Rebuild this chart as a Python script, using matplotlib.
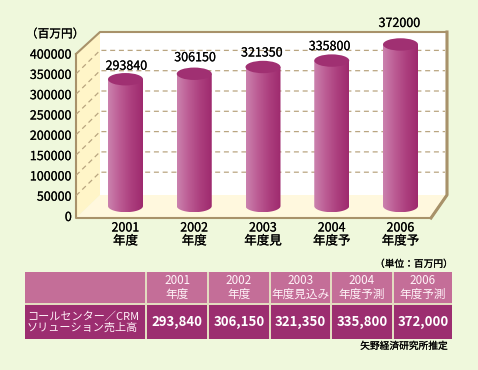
import numpy as np
import matplotlib
matplotlib.use("Agg")
import matplotlib.pyplot as plt
import matplotlib.patheffects as pe
from matplotlib.colors import LinearSegmentedColormap
from matplotlib.patches import Polygon, Rectangle, Ellipse, PathPatch
from matplotlib.path import Path

plt.rcParams['font.family'] = ['Noto Sans CJK JP', 'DejaVu Sans']

# ---- data ----
categories = ["2001\n年度", "2002\n年度", "2003\n年度見", "2004\n年度予", "2006\n年度予"]
values = [293840, 306150, 321350, 335800, 372000]
grid_values = [50000, 100000, 150000, 200000, 250000, 300000, 350000]
y_ticks = [0, 50000, 100000, 150000, 200000, 250000, 300000, 350000, 400000]
table_headers = ["2001\n年度", "2002\n年度", "2003\n年度見込み", "2004\n年度予測", "2006\n年度予測"]
row_label = "コールセンター／CRM\nソリューション売上高"
unit_label = "（百万円）"
table_unit = "（単位：百万円）"
source = "矢野経済研究所推定"

W, H = 478, 370
BG = "#EFF8DC"; TAN = "#A8926A"; GRID = "#B9A580"
bold = [pe.withStroke(linewidth=0.12, foreground="black")]
fig = plt.figure(figsize=(W / 100, H / 100), dpi=100, facecolor=BG)

def axes_px(x0, x1, ytop, ybot, **kw):
    return fig.add_axes([x0 / W, 1 - ybot / H, (x1 - x0) / W, (ybot - ytop) / H], **kw)

# background (frame and table) in pixel coordinates
bg = axes_px(0, W, 0, H)
bg.set_xlim(0, W); bg.set_ylim(H, 0); bg.axis("off")

bg.add_patch(Polygon([(100, 32), (447, 32), (447, 195), (100, 195)], fc="white", ec="none"))
bg.add_patch(Polygon([(76, 54), (100, 32), (100, 195), (76, 218)], fc="#FFF5C8", ec="none"))
bg.add_patch(Polygon([(76, 218), (100, 195), (447, 195), (431, 218)], fc="#FFF8DE", ec="none"))
bg.plot([76, 100, 447, 447, 431, 76, 76], [54, 32, 32, 195, 218, 218, 54],
        color=TAN, lw=1.5, solid_joinstyle="round", zorder=5)
bg.plot([447, 447, 431], [32, 195, 218], color=TAN, lw=2.2, solid_joinstyle="round", zorder=5)

# value axis: front-wall scale
ax_val = axes_px(76, 447, 53.6, 216)
ax_val.patch.set_alpha(0)
ax_val.set_xlim(76, 447); ax_val.set_ylim(0, 400000)
for s in ax_val.spines.values():
    s.set_visible(False)
ax_val.set_xticks([])
ax_val.set_yticks(y_ticks)
ax_val.set_yticklabels([str(v) for v in y_ticks], fontsize=9, color="black", path_effects=bold)
ax_val.tick_params(axis="y", length=0, pad=3)
shift = 23.5 / 162.4 * 400000
for v in grid_values:
    ax_val.plot([76, 100, 445], [v, v + shift, v + shift], color=GRID, lw=0.9,
                dashes=(4, 3), clip_on=False, zorder=1)

# bars: own value scale (0 at y=210 px, 22.25 px per 50000)
px_per_unit = 0.000445
centers_px0, step_px = 125.5, 68.75
half_w = 17.5 / step_px
ax = axes_px(76, 447, 32, 218)
ax.patch.set_alpha(0)
for s in ax.spines.values():
    s.set_visible(False)
ax.set_yticks([])
ax.set_xticks(range(len(categories)))
ax.set_xticklabels(categories, fontsize=9, color="black", linespacing=1.0, path_effects=bold)
ax.tick_params(axis="x", length=0, pad=2.5)

cmap = LinearSegmentedColormap.from_list("cyl", ["#CB82AE", "#BC5C94", "#AC3F7E", "#9E2A6E"])
grad = np.linspace(0, 1, 128).reshape(1, -1)
e_h = 6.2 / px_per_unit
base = 4 / px_per_unit
label_dy = [13, 16, 14, 14, 21]
label_dx = [1, 1, -1, -2, -1]
t = np.linspace(np.pi, 2 * np.pi, 40)
for i, (v, dy, dx) in enumerate(zip(values, label_dy, label_dx)):
    xs = np.r_[i - half_w, i + half_w * np.cos(t), i + half_w]
    ys = np.r_[v, base + e_h * np.sin(t), v]
    im = ax.imshow(grad, extent=(i - half_w, i + half_w, base - e_h, v), cmap=cmap,
                   aspect="auto", zorder=3, interpolation="bilinear")
    patch = PathPatch(Path(np.c_[xs, ys]), transform=ax.transData, fc="none", ec="none")
    ax.add_patch(patch)
    im.set_clip_path(patch)
    ax.add_patch(Ellipse((i, v), 2 * half_w, 2 * e_h, fc="#A03072", ec="none", zorder=4))
    ax.annotate(str(v), (i, v), xytext=(dx * 0.72, dy * 0.72), textcoords="offset points",
                ha="center", va="center", fontsize=9, color="black", zorder=6,
                annotation_clip=False, path_effects=bold)
ax.set_xlim((76 - centers_px0) / step_px, (447 - centers_px0) / step_px)
ax.set_ylim((210 - 218) / px_per_unit, (210 - 32) / px_per_unit)

bg.text(55, 34, unit_label, fontsize=8.4, ha="center", va="center", color="black", path_effects=bold)

# table
HEAD = "#C46E98"; BODY = "#9C2E70"
col_x = [(147, 207), (209, 269), (271, 330), (332, 392), (394, 452)]
bg.add_patch(Rectangle((25, 272), 427, 67, fc="#E3DCC0", ec="none"))
bg.add_patch(Rectangle((25, 272), 120, 31, fc=HEAD, ec="none"))
bg.add_patch(Rectangle((25, 305), 120, 34, fc=BODY, ec="none"))
bg.text(27, 322, row_label, fontsize=8, color="#FFF0F8", ha="left", va="center", linespacing=1.05)
for (x0, x1), h, v in zip(col_x, table_headers, values):
    bg.add_patch(Rectangle((x0, 272), x1 - x0, 31, fc=HEAD, ec="none"))
    bg.add_patch(Rectangle((x0, 305), x1 - x0, 34, fc=BODY, ec="none"))
    bg.text((x0 + x1) / 2, 287.5, h, fontsize=8.4, color="#FFF3F8", ha="center", va="center", linespacing=1.0)
    bg.text((x0 + x1) / 2, 322, f"{v:,}", fontsize=9.5, color="white", ha="center", va="center", fontweight="bold")
bg.text(453, 264, table_unit, fontsize=7, ha="right", va="center", color="black", path_effects=bold)
bg.text(448, 346, source, fontsize=7, ha="right", va="center", color="black", path_effects=bold)

fig.savefig("out.png", dpi=100, facecolor=BG)
